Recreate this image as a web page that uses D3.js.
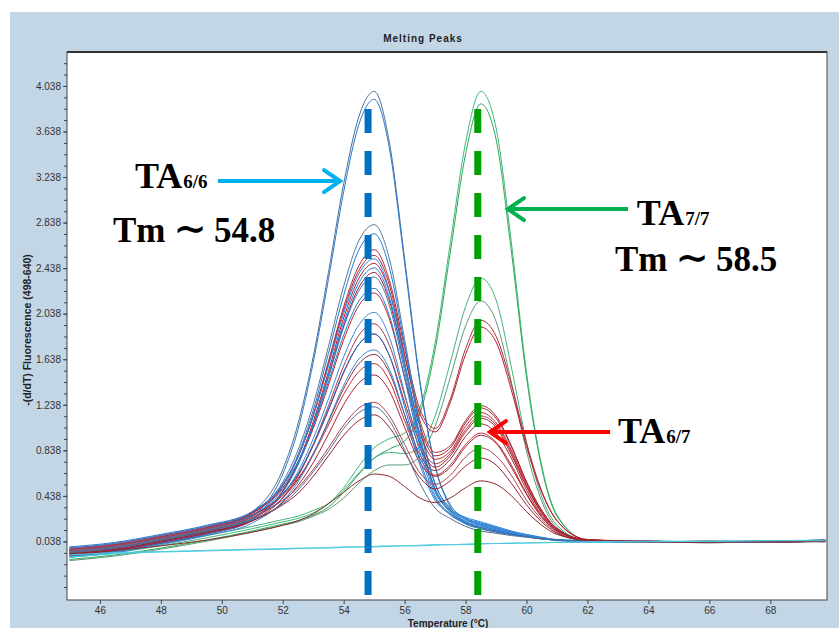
<!DOCTYPE html>
<html>
<head>
<meta charset="utf-8">
<script src="https://cdn.jsdelivr.net/npm/d3@7"></script>
<style>
  body { margin: 0; background: #fff; }
  svg { display: block; }
</style>
</head>
<body>
<script>
// Temperature grid (°C) that every curve is sampled on
const temps = [45, 46.5, 48, 49.5, 51, 52, 52.5, 53, 53.5, 54, 54.5, 55, 55.5, 56, 56.5, 57, 57.5, 58, 58.5, 59, 59.5, 60, 60.5, 61, 62, 64, 66, 68, 69.8];

// TA6/6 samples (blue), -(d/dT) fluorescence
const blueCurves = [
  [-0.04, 0.00, 0.07, 0.15, 0.30, 0.67, 1.07, 1.66, 2.40, 3.18, 3.77, 3.99, 3.54, 2.52, 1.45, 0.70, 0.34, 0.21, 0.15, 0.12, 0.10, 0.08, 0.065, 0.05, 0.04, 0.035, 0.03, 0.04, 0.045],
  [-0.08, -0.04, 0.03, 0.11, 0.26, 0.63, 1.02, 1.61, 2.34, 3.11, 3.70, 3.92, 3.49, 2.48, 1.43, 0.70, 0.36, 0.24, 0.18, 0.14, 0.11, 0.085, 0.07, 0.05, 0.045, 0.03, 0.035, 0.035, 0.05],
  [-0.03, 0.01, 0.08, 0.16, 0.29, 0.56, 0.84, 1.24, 1.75, 2.28, 2.68, 2.82, 2.52, 1.81, 1.07, 0.55, 0.31, 0.20, 0.16, 0.13, 0.10, 0.08, 0.06, 0.05, 0.04, 0.04, 0.025, 0.045, 0.04],
  [-0.06, -0.02, 0.05, 0.13, 0.26, 0.53, 0.80, 1.19, 1.69, 2.20, 2.60, 2.74, 2.44, 1.76, 1.04, 0.54, 0.33, 0.24, 0.20, 0.16, 0.12, 0.09, 0.07, 0.05, 0.035, 0.03, 0.035, 0.04, 0.05],
  [-0.02, 0.02, 0.09, 0.17, 0.30, 0.54, 0.78, 1.14, 1.58, 2.04, 2.39, 2.52, 2.24, 1.62, 0.97, 0.50, 0.30, 0.21, 0.17, 0.14, 0.11, 0.085, 0.065, 0.045, 0.04, 0.04, 0.03, 0.035, 0.04],
  [-0.09, -0.05, 0.02, 0.10, 0.23, 0.47, 0.71, 1.06, 1.50, 1.96, 2.31, 2.44, 2.18, 1.58, 0.94, 0.50, 0.32, 0.25, 0.21, 0.17, 0.13, 0.10, 0.075, 0.055, 0.045, 0.03, 0.03, 0.045, 0.045],
  [-0.05, -0.01, 0.06, 0.14, 0.26, 0.50, 0.73, 1.06, 1.48, 1.92, 2.24, 2.36, 2.11, 1.53, 0.92, 0.49, 0.29, 0.19, 0.15, 0.12, 0.10, 0.08, 0.06, 0.05, 0.04, 0.04, 0.035, 0.03, 0.04],
  [-0.01, 0.03, 0.10, 0.18, 0.30, 0.53, 0.74, 1.05, 1.44, 1.85, 2.15, 2.26, 2.02, 1.47, 0.88, 0.47, 0.31, 0.23, 0.19, 0.15, 0.12, 0.09, 0.07, 0.05, 0.045, 0.035, 0.03, 0.04, 0.035],
  [-0.07, -0.03, 0.04, 0.12, 0.24, 0.45, 0.65, 0.94, 1.29, 1.66, 1.94, 2.05, 1.83, 1.34, 0.82, 0.44, 0.28, 0.21, 0.18, 0.15, 0.12, 0.09, 0.07, 0.05, 0.04, 0.035, 0.04, 0.035, 0.05],
  [-0.04, 0.00, 0.07, 0.15, 0.27, 0.46, 0.63, 0.89, 1.20, 1.53, 1.77, 1.86, 1.67, 1.22, 0.75, 0.42, 0.27, 0.20, 0.16, 0.13, 0.10, 0.08, 0.065, 0.05, 0.04, 0.03, 0.035, 0.04, 0.045],
  [-0.10, -0.06, 0.01, 0.09, 0.20, 0.39, 0.56, 0.80, 1.10, 1.41, 1.64, 1.72, 1.55, 1.15, 0.71, 0.40, 0.28, 0.22, 0.19, 0.16, 0.12, 0.09, 0.07, 0.05, 0.035, 0.04, 0.03, 0.04, 0.04],
  [-0.06, -0.02, 0.05, 0.13, 0.23, 0.37, 0.49, 0.65, 0.83, 1.03, 1.17, 1.22, 1.10, 0.84, 0.55, 0.33, 0.24, 0.17, 0.13, 0.11, 0.09, 0.075, 0.06, 0.05, 0.04, 0.035, 0.03, 0.035, 0.045]
];

// TA6/7 samples (red): two peaks
const redCurves = [
  [-0.04, 0.00, 0.07, 0.15, 0.28, 0.53, 0.78, 1.15, 1.62, 2.10, 2.46, 2.60, 2.33, 1.74, 1.20, 1.03, 1.29, 1.73, 1.98, 1.84, 1.42, 0.90, 0.48, 0.22, 0.055, 0.035, 0.03, 0.04, 0.045],
  [-0.08, -0.04, 0.03, 0.11, 0.24, 0.48, 0.73, 1.09, 1.53, 2.00, 2.35, 2.48, 2.23, 1.67, 1.16, 1.00, 1.26, 1.68, 1.92, 1.79, 1.37, 0.87, 0.47, 0.22, 0.055, 0.04, 0.035, 0.035, 0.05],
  [-0.03, 0.01, 0.08, 0.16, 0.29, 0.54, 0.78, 1.14, 1.60, 2.07, 2.42, 2.55, 2.29, 1.68, 1.10, 0.82, 0.88, 1.10, 1.23, 1.14, 0.88, 0.56, 0.31, 0.15, 0.05, 0.03, 0.035, 0.045, 0.04],
  [-0.07, -0.03, 0.04, 0.12, 0.24, 0.48, 0.72, 1.06, 1.49, 1.93, 2.27, 2.40, 2.15, 1.59, 1.05, 0.79, 0.86, 1.08, 1.21, 1.12, 0.87, 0.56, 0.31, 0.15, 0.05, 0.04, 0.03, 0.035, 0.045],
  [-0.02, 0.02, 0.09, 0.17, 0.29, 0.51, 0.72, 1.03, 1.41, 1.81, 2.11, 2.22, 1.99, 1.48, 0.99, 0.76, 0.83, 1.05, 1.17, 1.08, 0.84, 0.54, 0.30, 0.15, 0.05, 0.035, 0.04, 0.03, 0.04],
  [-0.09, -0.05, 0.02, 0.10, 0.22, 0.42, 0.61, 0.89, 1.23, 1.58, 1.85, 1.95, 1.76, 1.32, 0.90, 0.72, 0.81, 1.02, 1.14, 1.06, 0.82, 0.52, 0.29, 0.15, 0.05, 0.03, 0.035, 0.04, 0.05],
  [-0.05, -0.01, 0.06, 0.14, 0.26, 0.45, 0.62, 0.88, 1.19, 1.52, 1.77, 1.86, 1.67, 1.26, 0.86, 0.69, 0.79, 1.00, 1.12, 1.04, 0.80, 0.52, 0.29, 0.14, 0.05, 0.04, 0.03, 0.045, 0.04],
  [-0.06, -0.02, 0.05, 0.13, 0.24, 0.42, 0.58, 0.81, 1.09, 1.38, 1.60, 1.68, 1.52, 1.15, 0.80, 0.66, 0.76, 0.96, 1.07, 0.99, 0.77, 0.49, 0.27, 0.14, 0.05, 0.035, 0.035, 0.03, 0.045],
  [-0.03, 0.01, 0.08, 0.16, 0.27, 0.44, 0.59, 0.80, 1.06, 1.33, 1.53, 1.60, 1.45, 1.10, 0.77, 0.62, 0.71, 0.89, 0.99, 0.91, 0.71, 0.46, 0.26, 0.13, 0.05, 0.04, 0.03, 0.04, 0.035],
  [-0.08, -0.04, 0.03, 0.11, 0.22, 0.38, 0.53, 0.73, 0.98, 1.24, 1.43, 1.50, 1.36, 1.04, 0.73, 0.61, 0.69, 0.87, 0.97, 0.90, 0.69, 0.45, 0.25, 0.13, 0.05, 0.035, 0.04, 0.035, 0.05],
  [-0.04, 0.00, 0.07, 0.15, 0.25, 0.40, 0.51, 0.67, 0.86, 1.06, 1.21, 1.26, 1.14, 0.89, 0.64, 0.54, 0.62, 0.78, 0.86, 0.79, 0.62, 0.40, 0.23, 0.12, 0.045, 0.03, 0.035, 0.04, 0.04],
  [-0.07, -0.03, 0.04, 0.12, 0.22, 0.36, 0.46, 0.61, 0.79, 0.97, 1.10, 1.15, 1.04, 0.82, 0.60, 0.50, 0.57, 0.70, 0.77, 0.71, 0.55, 0.36, 0.21, 0.11, 0.045, 0.04, 0.03, 0.035, 0.045],
  [-0.07, -0.04, 0.00, 0.05, 0.12, 0.18, 0.22, 0.28, 0.37, 0.47, 0.57, 0.63, 0.61, 0.52, 0.42, 0.38, 0.42, 0.51, 0.57, 0.54, 0.44, 0.30, 0.18, 0.10, 0.05, 0.035, 0.03, 0.04, 0.04]
];

// TA7/7 samples (green)
const greenCurves = [
  [-0.10, -0.06, 0.00, 0.07, 0.15, 0.21, 0.24, 0.29, 0.37, 0.51, 0.70, 0.86, 0.94, 0.99, 1.21, 1.78, 2.66, 3.54, 3.99, 3.67, 2.67, 1.52, 0.70, 0.27, 0.05, 0.035, 0.03, 0.04, 0.05],
  [-0.12, -0.08, -0.02, 0.05, 0.13, 0.19, 0.22, 0.27, 0.34, 0.47, 0.63, 0.77, 0.85, 0.92, 1.16, 1.72, 2.58, 3.44, 3.88, 3.57, 2.59, 1.48, 0.68, 0.26, 0.05, 0.04, 0.035, 0.03, 0.045],
  [-0.08, -0.04, 0.02, 0.09, 0.17, 0.23, 0.26, 0.31, 0.37, 0.49, 0.64, 0.77, 0.82, 0.81, 0.87, 1.14, 1.61, 2.10, 2.35, 2.16, 1.57, 0.91, 0.43, 0.18, 0.045, 0.035, 0.04, 0.035, 0.04],
  [-0.13, -0.09, -0.03, 0.04, 0.12, 0.18, 0.21, 0.26, 0.32, 0.42, 0.55, 0.66, 0.71, 0.71, 0.79, 1.05, 1.48, 1.93, 2.15, 1.97, 1.44, 0.83, 0.39, 0.16, 0.045, 0.04, 0.03, 0.04, 0.05]
];

// negative controls (cyan)
const cyanCurves = [
  [-0.10, -0.07, -0.055, -0.045, -0.035, -0.03, -0.025, -0.02, -0.02, -0.015, -0.01, -0.01, -0.005, 0.0, 0.0, 0.005, 0.01, 0.01, 0.015, 0.02, 0.02, 0.025, 0.025, 0.03, 0.03, 0.035, 0.04, 0.045, 0.05],
  [-0.08, -0.06, -0.05, -0.04, -0.03, -0.025, -0.02, -0.02, -0.015, -0.01, -0.01, -0.005, 0.0, 0.0, 0.005, 0.01, 0.01, 0.015, 0.02, 0.02, 0.025, 0.025, 0.03, 0.03, 0.035, 0.04, 0.04, 0.045, 0.045]
];

const blueColors = ["#4d6f93", "#2a78cc", "#557896", "#1f7ad6", "#2a82e0", "#1c80dc", "#4a78a8", "#2277cc", "#3a88dc", "#1f6fc8", "#3a84d0", "#4f6e95"];
const redColors = ["#a82c3c", "#c0182a", "#b02a30", "#9c2035", "#c8202c", "#a33a48", "#b81c24", "#8e2a38", "#c02a35", "#a52035", "#b04050", "#982030", "#8b2a2a"];
const greenColors = ["#3cb878", "#2ca85a", "#44b27a", "#5a9a78"];
const cyanColors = ["#3ad0e4", "#55c8dc"];

const yTicks = [0.038, 0.438, 0.838, 1.238, 1.638, 2.038, 2.438, 2.838, 3.238, 3.638, 4.038];
const xTicks = [46, 48, 50, 52, 54, 56, 58, 60, 62, 64, 66, 68];

// Tm marker lines
const markerTemps = [54.8, 58.4];
const markerColors = ["#0070c0", "#00a000"];

// Standard SVG setup stuff
const w = 839;
const h = 628;
const svg = d3.select("body").append("svg").attr("width", w).attr("height", h);

svg.append("rect")
  .attr("x", 10).attr("y", 12)
  .attr("width", w - 10).attr("height", h - 12)
  .attr("fill", "#c3d6e6");

const x_scale = d3.scaleLinear().domain([44.92, 69.86]).range([67, 827]);
const y_scale = d3.scaleLinear().domain([-0.476, 4.336]).range([600, 52]);
const [x0, x1] = x_scale.range();
const [y0, y1] = y_scale.range();

svg.append("text")
  .attr("x", 423).attr("y", 42)
  .attr("text-anchor", "middle")
  .attr("font-family", "Liberation Sans, Arial, sans-serif")
  .attr("font-size", 10).attr("font-weight", "bold")
  .attr("letter-spacing", 1)
  .attr("fill", "#222")
  .text("Melting Peaks");

// plot panel
svg.append("rect")
  .attr("x", x0).attr("y", y1)
  .attr("width", x1 - x0).attr("height", y0 - y1)
  .attr("fill", "#fff");

svg.append("clipPath").attr("id", "clip")
  .append("rect")
  .attr("x", x0).attr("y", y1)
  .attr("width", x1 - x0).attr("height", y0 - y1);

const line = d3.line()
  .x((d, i) => x_scale(temps[i]))
  .y((d) => y_scale(d))
  .curve(d3.curveMonotoneX);

const curves = svg.append("g").attr("clip-path", "url(#clip)").attr("fill", "none").attr("stroke-width", 1);

// green first, then blue and red interleaved, cyan controls last
const drawn = [];
greenCurves.forEach((d, i) => drawn.push({d, c: greenColors[i]}));
d3.range(Math.max(blueCurves.length, redCurves.length)).forEach(function (i) {
  if (redCurves[i]) drawn.push({d: redCurves[i], c: redColors[i]});
  if (blueCurves[i]) drawn.push({d: blueCurves[i], c: blueColors[i]});
});
cyanCurves.forEach((d, i) => drawn.push({d, c: cyanColors[i]}));

curves.append("g")
  .selectAll("path")
  .data(drawn)
  .join("path")
  .attr("d", (o) => line(o.d))
  .attr("stroke", (o) => o.c);

// dashed Tm markers
curves.append("g")
  .selectAll("line")
  .data(markerTemps)
  .join("line")
  .attr("x1", (d) => x_scale(d)).attr("x2", (d) => x_scale(d))
  .attr("y1", y_scale(3.835)).attr("y2", y0)
  .attr("stroke", (d, i) => markerColors[i])
  .attr("stroke-width", 7)
  .attr("stroke-dasharray", "24,18");

// frame
svg.append("rect")
  .attr("x", x0).attr("y", y1)
  .attr("width", x1 - x0).attr("height", y0 - y1)
  .attr("fill", "none").attr("stroke", "#444").attr("stroke-width", 1);
svg.append("line")
  .attr("x1", x0).attr("x2", x1).attr("y1", y1).attr("y2", y1)
  .attr("stroke", "#333").attr("stroke-width", 2);

// Add the axes
const tickFont = "Liberation Sans, Arial, sans-serif";
svg.append("g")
  .attr("transform", `translate(${x0},0)`)
  .call(d3.axisLeft(y_scale).tickValues(yTicks).tickFormat(d3.format(".3f")).tickSize(4).tickPadding(2));
const minorY = d3.range(-4, 43).map((k) => 0.038 + k * 0.1).filter((v) => v > -0.47 && v < 4.33);
svg.append("g")
  .attr("transform", `translate(${x0},0)`)
  .call(d3.axisLeft(y_scale).tickValues(minorY).tickFormat("").tickSize(3));
svg.append("g")
  .attr("transform", `translate(0,${y0})`)
  .call(d3.axisBottom(x_scale).tickValues(xTicks).tickFormat(d3.format("d")).tickSize(4).tickPadding(3));
svg.selectAll("path.domain").remove();
svg.selectAll(".tick line").attr("stroke", "#444");
svg.selectAll(".tick text")
  .attr("font-family", tickFont)
  .attr("font-size", 10)
  .attr("fill", "#333");

svg.append("text")
  .attr("transform", "translate(31,330) rotate(-90)")
  .attr("text-anchor", "middle")
  .attr("font-family", tickFont)
  .attr("font-size", 10.5).attr("font-weight", "bold")
  .attr("fill", "#222")
  .text("-(d/dT) Fluorescence (498-640)");

svg.append("text")
  .attr("x", 448).attr("y", 627)
  .attr("text-anchor", "middle")
  .attr("font-family", tickFont)
  .attr("font-size", 10).attr("font-weight", "bold")
  .attr("fill", "#222")
  .text("Temperature (°C)");

// Annotations: arrows (in data units) and labels
const arrows = [
  {from: [49.87, 3.203], to: [53.88, 3.203], color: "#00b0f0"},
  {from: [63.33, 2.957], to: [59.39, 2.957], color: "#00b050"},
  {from: [62.74, 0.999], to: [58.80, 0.999], color: "#ff0000"}
];
const ann = svg.append("g");
arrows.forEach(function (a) {
  const xa = x_scale(a.from[0]), ya = y_scale(a.from[1]);
  const xb = x_scale(a.to[0]), yb = y_scale(a.to[1]);
  const dir = Math.sign(xb - xa);
  ann.append("line")
    .attr("x1", xa).attr("y1", ya).attr("x2", xb - dir * 2).attr("y2", yb)
    .attr("stroke", a.color).attr("stroke-width", 4);
  ann.append("polyline")
    .attr("points", [[xb - dir * 16, yb - 11], [xb, yb], [xb - dir * 16, yb + 11]].join(" "))
    .attr("fill", "none").attr("stroke", a.color).attr("stroke-width", 4)
    .attr("stroke-linecap", "round").attr("stroke-linejoin", "miter");
});

const labels = [
  {pos: [47.15, 3.142], main: "TA", sub: "6/6"},
  {pos: [63.62, 2.817], main: "TA", sub: "7/7"},
  {pos: [63.00, 0.903], main: "TA", sub: "6/7"}
];
const tmLabels = [
  {pos: [46.43, 2.668], value: "54.8"},
  {pos: [62.90, 2.413], value: "58.5"}
];
const serif = "Liberation Serif, Times New Roman, serif";
labels.forEach(function (l) {
  const t = ann.append("text")
    .attr("x", x_scale(l.pos[0])).attr("y", y_scale(l.pos[1]))
    .attr("font-family", serif).attr("font-weight", "bold").attr("fill", "#000");
  t.append("tspan").attr("font-size", 36).text(l.main);
  t.append("tspan").attr("font-size", 19).attr("dx", 1).text(l.sub);
});
tmLabels.forEach(function (l) {
  const t = ann.append("text")
    .attr("x", x_scale(l.pos[0])).attr("y", y_scale(l.pos[1]))
    .attr("font-family", serif).attr("font-weight", "bold").attr("font-size", 35).attr("fill", "#000");
  t.append("tspan").text("Tm");
  t.append("tspan").attr("dx", 8).attr("font-family", "DejaVu Serif, serif").attr("font-size", 40).text("\u223C");
  t.append("tspan").attr("dx", 7).text(l.value);
});
</script>
</body>
</html>
